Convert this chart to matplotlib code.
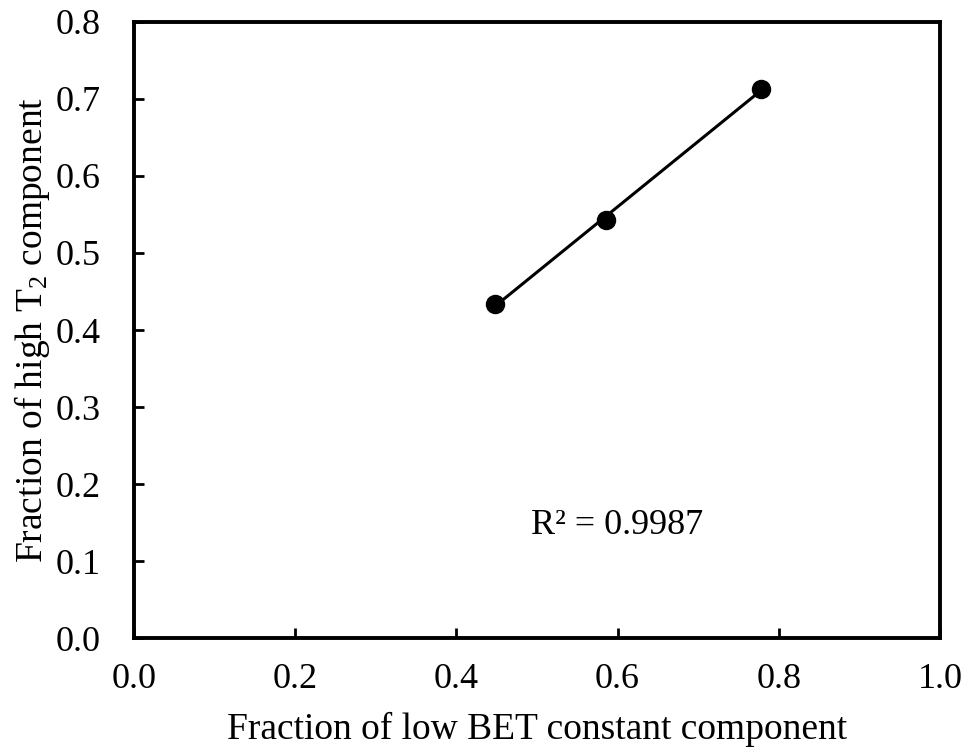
import numpy as np
import matplotlib.pyplot as plt

plt.rcParams['font.family'] = ['Liberation Serif', 'DejaVu Serif']
plt.rcParams['mathtext.fontset'] = 'custom'
plt.rcParams['mathtext.rm'] = 'Liberation Serif'
plt.rcParams['mathtext.it'] = 'Liberation Serif:italic'

# data
low_bet = np.array([0.448, 0.586, 0.778])
high_t2 = np.array([0.434, 0.543, 0.713])
r2_text = 'R² = 0.9987'

fig = plt.figure(figsize=(9.65, 7.51), dpi=100)
ax = fig.add_axes([0.139, 0.150, 0.835, 0.821])

# linear trendline over the data range
slope, icpt = np.polyfit(low_bet, high_t2, 1)
xs = np.array([low_bet.min(), low_bet.max()])
ax.plot(xs, slope * xs + icpt, 'k-', lw=2.2)
ax.plot(low_bet, high_t2, 'ko', ms=13)

ax.text(0.599, 0.146, r2_text, fontsize=26, ha='center', va='center')

ax.set_xlim(0, 1.0)
ax.set_ylim(0, 0.8)
ax.set_xticks(np.arange(0, 1.01, 0.2))
ax.set_yticks(np.arange(0, 0.81, 0.1))
ax.xaxis.set_major_formatter(plt.FormatStrFormatter('%.1f'))
ax.yaxis.set_major_formatter(plt.FormatStrFormatter('%.1f'))
ax.tick_params(direction='in', length=7, width=2, labelsize=26)
ax.tick_params(axis='x', pad=18)
ax.tick_params(axis='y', pad=24)
for s in ax.spines.values():
    s.set_linewidth(2.8)

ax.set_xlabel('Fraction of low BET constant component', fontsize=27, labelpad=11)
ax.set_ylabel('Fraction of high T$_2$ component', fontsize=27, labelpad=3)

fig.savefig('out.png', dpi=100)
